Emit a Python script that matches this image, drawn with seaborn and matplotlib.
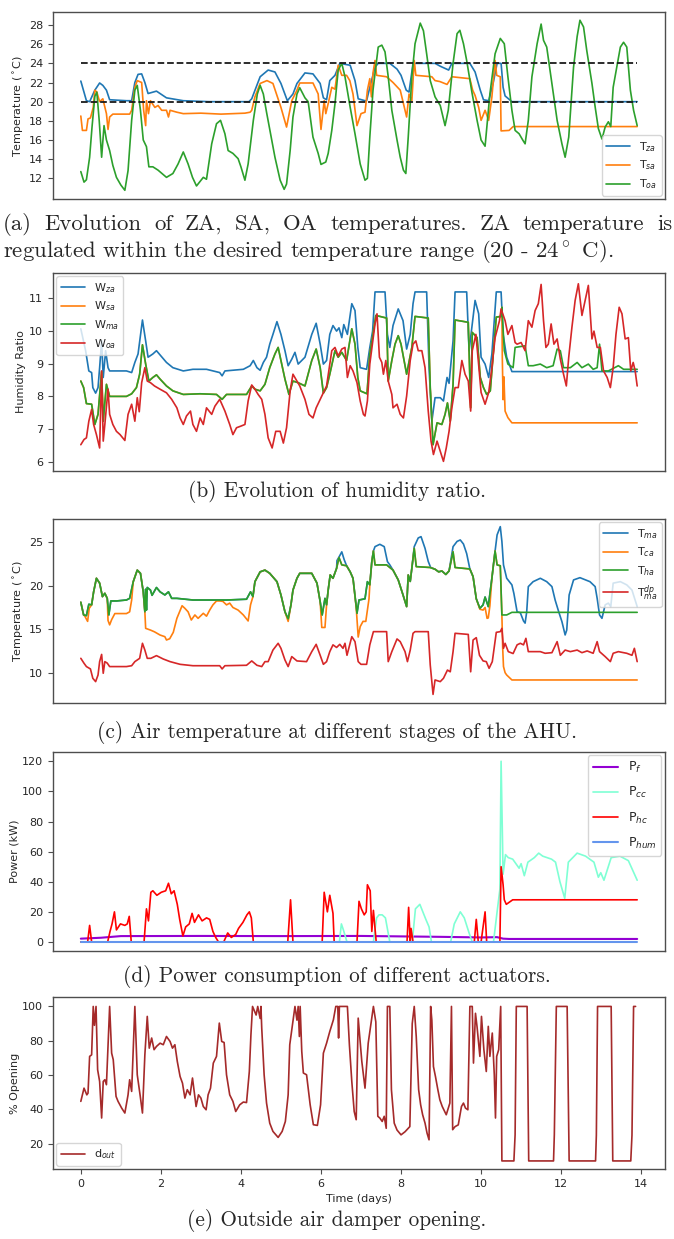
import matplotlib
matplotlib.use("Agg")
import matplotlib.pyplot as plt
import seaborn as sns

# ---------------- data (time in days, value) ----------------
T_ZA = [(0,22.15),(0.14,20.1),(0.22,20.0),(0.35,21.2),(0.47,21.95),(0.55,21.7),(0.64,21.2),(0.72,20.2),(1.14,20.1),(1.27,20.1),(1.35,22.0),(1.43,22.85),(1.52,22.9),(1.6,22.0),(1.68,20.85),(1.89,21.1),(2.14,20.4),(2.56,20.1),(3.2,20.0),(4.2,20.0),(4.27,20.3),(4.48,22.6),(4.68,23.3),(4.85,23.1),(5.0,21.9),(5.16,20.1),(5.3,20.8),(5.4,21.9),(5.6,23.0),(5.8,22.9),(5.98,21.9),(6.06,20.4),(6.14,20.2),(6.22,22.2),(6.35,22.75),(6.47,24.0),(6.73,23.8),(6.85,22.2),(6.93,20.3),(7.1,20.1),(7.14,20.1),(7.22,21.5),(7.35,23.6),(7.43,24.0),(7.72,24.0),(7.9,23.4),(8.0,22.75),(8.13,21.2),(8.2,21.0),(8.3,24.0),(8.85,24.0),(8.98,23.7),(9.19,23.3),(9.27,24.0),(9.72,24.0),(9.85,23.1),(9.98,21.2),(10.06,20.2),(10.19,20.1),(10.3,21.9),(10.4,24.0),(10.5,24.0),(10.55,21.5),(10.6,20.6),(10.77,20.0),(13.9,20.0)]
T_SA = [(0,18.5),(0.04,17.0),(0.14,17.0),(0.18,18.2),(0.24,18.3),(0.31,19.4),(0.35,21.2),(0.4,21.0),(0.47,20.0),(0.55,20.3),(0.64,18.75),(0.68,17.1),(0.72,18.4),(0.8,18.7),(1.14,18.7),(1.22,18.7),(1.27,19.1),(1.35,21.5),(1.41,22.2),(1.52,22.0),(1.57,19.1),(1.62,17.5),(1.64,20.1),(1.69,18.75),(1.74,20.1),(1.85,19.4),(1.93,19.6),(2.02,19.1),(2.14,19.1),(2.19,18.4),(2.23,19.1),(2.4,18.9),(2.56,18.75),(3.0,18.8),(3.5,18.7),(4.1,18.8),(4.23,18.9),(4.27,19.1),(4.35,20.5),(4.48,21.9),(4.65,22.2),(4.8,21.9),(5.0,19.4),(5.14,17.35),(5.27,20.1),(5.4,21.2),(5.47,21.95),(5.8,21.95),(5.93,20.8),(6.0,17.1),(6.08,20.1),(6.12,18.75),(6.18,19.8),(6.27,21.5),(6.35,21.3),(6.43,23.8),(6.52,22.75),(6.64,22.75),(6.72,22.2),(6.8,20.8),(6.9,17.5),(7.0,18.75),(7.1,18.9),(7.16,21.2),(7.22,22.4),(7.26,20.5),(7.3,23.0),(7.35,24.3),(7.39,22.75),(7.64,22.6),(7.8,22.0),(7.98,21.2),(8.14,18.4),(8.2,20.8),(8.27,20.1),(8.33,24.3),(8.37,22.75),(8.77,22.6),(8.85,22.2),(8.97,22.1),(9.15,21.8),(9.27,22.6),(9.72,22.4),(9.79,21.2),(9.85,20.65),(9.94,19.4),(10.0,18.05),(10.1,19.1),(10.19,18.05),(10.27,20.5),(10.35,24.3),(10.39,22.75),(10.48,22.6),(10.5,16.95),(10.7,17.0),(10.8,17.4),(13.9,17.4)]
T_OA = [(0,12.7),(0.08,11.6),(0.14,11.85),(0.22,14.2),(0.28,17.35),(0.35,20.55),(0.4,21.0),(0.46,18.0),(0.52,14.2),(0.58,17.5),(0.64,16.0),(0.72,14.9),(0.8,13.35),(0.89,12.1),(1.0,11.3),(1.1,10.75),(1.18,12.8),(1.27,18.05),(1.35,21.2),(1.41,21.7),(1.49,19.1),(1.56,16.0),(1.64,15.3),(1.7,13.2),(1.8,13.2),(1.93,12.85),(2.14,12.1),(2.3,12.5),(2.43,13.5),(2.56,14.75),(2.68,13.5),(2.79,12.1),(2.89,11.2),(3.06,12.1),(3.14,11.9),(3.27,15.6),(3.39,17.7),(3.49,18.05),(3.6,16.65),(3.68,14.9),(3.8,14.6),(3.93,14.05),(4.0,13.2),(4.1,11.8),(4.18,13.5),(4.31,18.05),(4.41,20.8),(4.48,21.7),(4.56,20.8),(4.64,18.9),(4.74,16.65),(4.85,14.2),(4.98,11.8),(5.08,10.85),(5.14,11.4),(5.23,14.9),(5.3,18.4),(5.4,20.8),(5.47,21.45),(5.6,20.4),(5.68,20.0),(5.8,16.3),(5.93,14.6),(6.0,13.45),(6.12,13.7),(6.18,14.6),(6.27,17.0),(6.35,19.8),(6.43,23.3),(6.52,24.0),(6.6,22.6),(6.73,19.4),(6.85,16.65),(6.98,13.5),(7.1,11.8),(7.16,12.0),(7.22,16.3),(7.3,21.2),(7.43,25.7),(7.52,25.9),(7.6,25.2),(7.68,22.6),(7.77,19.1),(7.9,16.0),(7.98,14.2),(8.06,12.85),(8.12,12.5),(8.18,16.3),(8.27,22.6),(8.35,26.05),(8.48,28.2),(8.56,27.4),(8.64,25.0),(8.73,22.2),(8.85,20.5),(8.98,19.6),(9.1,17.5),(9.18,19.1),(9.3,24.0),(9.4,27.1),(9.47,27.45),(9.56,26.05),(9.64,24.3),(9.77,21.0),(9.9,18.05),(10.0,16.0),(10.1,15.35),(10.22,20.8),(10.35,25.0),(10.48,26.6),(10.58,26.05),(10.67,22.6),(10.77,19.1),(10.85,17.0),(10.95,16.65),(11.04,16.0),(11.1,15.6),(11.18,18.05),(11.27,22.6),(11.4,26.05),(11.5,28.1),(11.56,26.4),(11.64,25.7),(11.77,21.9),(11.9,18.05),(12.02,15.6),(12.1,14.2),(12.19,16.3),(12.31,23.6),(12.4,26.8),(12.47,28.5),(12.56,27.8),(12.64,25.35),(12.77,21.9),(12.85,19.45),(12.93,17.2),(13.02,16.1),(13.1,17.35),(13.18,17.9),(13.24,17.4),(13.3,21.5),(13.39,23.6),(13.48,25.7),(13.56,26.2),(13.64,25.7),(13.73,21.2),(13.81,19.1),(13.9,17.5)]
T_BAND = [20, 24]

W_ZA = [(0,10.07),(0.12,9.4),(0.2,8.78),(0.27,8.73),(0.3,8.27),(0.37,8.1),(0.43,8.27),(0.47,8.88),(0.52,9.7),(0.56,8.58),(0.62,9.4),(0.68,8.88),(0.72,8.78),(1.14,8.78),(1.27,8.73),(1.35,9.04),(1.43,9.3),(1.54,10.34),(1.62,9.7),(1.68,9.2),(1.8,9.3),(1.89,9.4),(1.98,9.27),(2.14,9.04),(2.3,8.88),(2.56,8.78),(2.8,8.83),(3.14,8.83),(3.47,8.73),(3.53,8.63),(3.6,8.78),(4.06,8.83),(4.23,8.94),(4.31,9.1),(4.4,8.88),(4.48,8.8),(4.56,9.04),(4.64,9.2),(4.72,9.6),(4.8,9.9),(4.9,10.29),(5.0,9.9),(5.1,9.4),(5.18,8.94),(5.27,9.14),(5.35,9.35),(5.43,8.99),(5.6,9.2),(5.77,9.9),(5.88,10.24),(5.98,9.6),(6.06,8.99),(6.14,9.1),(6.22,9.9),(6.3,10.17),(6.39,10.0),(6.45,10.1),(6.52,9.8),(6.57,10.2),(6.66,9.9),(6.77,10.84),(6.85,10.63),(6.92,9.5),(6.98,8.88),(7.14,8.83),(7.22,9.5),(7.29,10.0),(7.35,11.2),(7.6,11.2),(7.66,9.9),(7.72,9.5),(7.8,10.17),(7.93,10.68),(8.05,10.32),(8.14,9.45),(8.23,9.9),(8.3,10.84),(8.35,11.2),(8.64,11.2),(8.7,8.88),(8.77,7.24),(8.85,7.96),(8.98,7.96),(9.06,7.86),(9.15,8.58),(9.2,8.4),(9.3,9.7),(9.35,11.2),(9.64,11.2),(9.7,9.4),(9.85,10.94),(9.94,10.53),(10.0,9.2),(10.1,8.99),(10.19,8.58),(10.27,9.3),(10.38,11.2),(10.5,11.2),(10.55,9.9),(10.64,9.2),(10.77,8.76),(13.9,8.76)]
W_MA = [(0,8.47),(0.07,8.27),(0.14,7.78),(0.27,7.76),(0.35,7.14),(0.43,7.45),(0.52,8.76),(0.56,7.24),(0.64,8.37),(0.72,8.0),(1.14,8.0),(1.27,8.08),(1.39,8.27),(1.47,8.68),(1.54,9.58),(1.62,8.99),(1.7,8.47),(1.8,8.58),(1.89,8.66),(1.98,8.53),(2.14,8.32),(2.3,8.17),(2.56,8.06),(2.98,8.08),(3.39,8.06),(3.53,7.91),(3.64,8.06),(4.14,8.06),(4.27,8.32),(4.35,8.22),(4.48,8.17),(4.6,8.37),(4.72,8.88),(4.85,9.3),(4.93,9.5),(5.0,9.1),(5.1,8.53),(5.2,8.06),(5.3,8.47),(5.43,8.42),(5.6,8.32),(5.77,9.1),(5.88,9.45),(5.98,8.88),(6.06,8.1),(6.14,8.27),(6.22,8.68),(6.35,9.4),(6.43,9.2),(6.52,9.35),(6.64,9.1),(6.77,10.07),(6.85,9.6),(6.92,8.58),(6.98,8.17),(7.15,8.08),(7.22,9.3),(7.3,9.9),(7.37,10.48),(7.64,10.4),(7.68,8.47),(7.77,9.1),(7.85,9.6),(7.93,9.86),(8.0,9.6),(8.14,8.68),(8.27,9.5),(8.35,10.45),(8.68,10.4),(8.73,8.27),(8.8,6.52),(8.9,7.19),(9.02,7.14),(9.1,7.45),(9.16,7.8),(9.23,7.24),(9.3,8.37),(9.35,10.34),(9.68,10.27),(9.74,7.65),(9.78,9.96),(9.9,9.8),(9.98,8.58),(10.06,8.27),(10.14,8.06),(10.23,8.17),(10.31,9.4),(10.38,10.43),(10.5,10.45),(10.52,10.73),(10.58,9.4),(10.67,8.99),(10.8,8.88),(10.85,9.5),(11.1,9.55),(11.18,8.94),(11.3,8.94),(11.48,8.99),(11.64,8.88),(11.8,8.94),(11.9,9.45),(11.98,9.4),(12.06,8.88),(12.23,8.88),(12.4,9.04),(12.52,8.88),(12.68,8.99),(12.8,8.83),(12.9,8.88),(12.96,9.6),(13.02,8.78),(13.18,8.78),(13.43,8.94),(13.56,8.83),(13.9,8.83)]
W_SA_TAIL = [(10.52,10.73),(10.53,9.2),(10.55,7.9),(10.57,8.6),(10.6,7.55),(10.67,7.35),(10.77,7.19),(13.9,7.19)]
W_OA = [(0,6.52),(0.08,6.68),(0.14,6.73),(0.2,7.24),(0.27,7.6),(0.32,7.14),(0.39,6.83),(0.43,6.63),(0.47,6.42),(0.52,8.78),(0.56,6.63),(0.6,7.14),(0.68,8.22),(0.72,7.45),(0.8,7.14),(0.89,6.93),(0.98,6.83),(1.1,6.65),(1.18,7.45),(1.27,7.76),(1.35,7.24),(1.41,7.96),(1.46,7.53),(1.52,8.42),(1.6,8.88),(1.66,8.47),(1.74,8.42),(1.84,8.32),(1.98,8.22),(2.14,8.11),(2.27,7.91),(2.4,7.65),(2.48,7.34),(2.56,7.14),(2.64,7.4),(2.74,7.55),(2.8,7.14),(2.89,6.93),(2.98,7.34),(3.06,7.14),(3.14,7.65),(3.27,7.45),(3.35,7.7),(3.47,7.91),(3.6,7.55),(3.72,7.14),(3.8,6.83),(3.89,7.04),(4.0,7.09),(4.1,7.14),(4.18,7.86),(4.27,8.35),(4.35,8.22),(4.43,8.06),(4.52,7.91),(4.6,7.45),(4.68,6.73),(4.78,6.42),(4.87,6.93),(4.98,6.93),(5.06,6.57),(5.14,7.04),(5.23,8.17),(5.3,8.68),(5.4,8.47),(5.47,8.32),(5.6,7.91),(5.7,7.45),(5.8,7.34),(5.88,7.65),(5.98,7.91),(6.08,8.17),(6.14,8.32),(6.27,9.4),(6.35,9.5),(6.43,9.24),(6.52,9.45),(6.6,9.5),(6.66,8.58),(6.73,8.94),(6.8,8.78),(6.9,8.42),(6.98,7.86),(7.06,7.45),(7.1,7.4),(7.16,7.86),(7.22,8.99),(7.29,9.65),(7.35,10.22),(7.4,10.53),(7.46,9.2),(7.52,9.04),(7.56,8.68),(7.62,9.1),(7.68,8.47),(7.77,8.06),(7.8,7.65),(7.9,7.76),(7.98,7.45),(8.06,7.34),(8.14,8.01),(8.23,9.1),(8.3,9.6),(8.37,9.7),(8.43,9.4),(8.52,9.4),(8.6,8.88),(8.68,7.55),(8.75,6.63),(8.81,6.22),(8.9,6.63),(8.98,6.32),(9.06,6.01),(9.13,6.42),(9.2,6.93),(9.27,7.65),(9.35,8.27),(9.43,8.27),(9.52,9.1),(9.6,8.68),(9.68,8.47),(9.74,7.55),(9.78,9.4),(9.87,9.9),(9.93,9.1),(10.0,8.12),(10.1,7.76),(10.19,8.12),(10.27,8.88),(10.35,9.8),(10.46,10.32),(10.5,10.68),(10.6,10.32),(10.67,9.9),(10.77,10.17),(10.85,9.65),(10.9,9.6),(11.0,9.65),(11.1,9.4),(11.18,10.32),(11.27,10.12),(11.35,10.63),(11.43,10.84),(11.5,11.43),(11.56,10.32),(11.62,9.5),(11.68,9.6),(11.75,10.22),(11.82,9.6),(11.9,9.76),(11.98,9.14),(12.06,8.68),(12.13,8.32),(12.19,9.2),(12.27,10.12),(12.35,10.94),(12.43,11.45),(12.52,10.48),(12.6,10.94),(12.68,11.4),(12.77,9.76),(12.82,10.0),(12.9,9.5),(12.98,9.5),(13.06,8.78),(13.15,8.58),(13.23,8.27),(13.3,8.88),(13.37,9.9),(13.45,10.73),(13.52,10.53),(13.6,9.76),(13.68,9.8),(13.74,8.78),(13.8,9.04),(13.85,8.78),(13.9,8.32)]

T_HA = [(0,18.1),(0.07,16.64),(0.14,16.56),(0.2,17.87),(0.27,17.8),(0.32,19.3),(0.39,20.86),(0.47,20.3),(0.54,18.75),(0.6,19.13),(0.66,18.55),(0.7,16.64),(0.75,18.25),(0.89,18.25),(1.14,18.36),(1.22,18.55),(1.31,20.47),(1.41,21.8),(1.49,21.43),(1.56,19.3),(1.6,17.0),(1.62,19.6),(1.64,17.2),(1.66,19.8),(1.74,19.5),(1.78,18.9),(1.89,19.8),(1.98,19.3),(2.1,18.94),(2.19,19.3),(2.27,18.55),(2.4,18.55),(2.8,18.36),(3.22,18.36),(3.64,18.36),(4.14,18.45),(4.24,19.3),(4.3,18.75),(4.35,20.47),(4.48,21.6),(4.6,21.8),(4.72,21.43),(4.9,20.47),(5.0,18.94),(5.1,17.0),(5.18,16.2),(5.25,17.8),(5.3,19.5),(5.4,20.86),(5.47,21.43),(5.77,21.43),(5.9,20.3),(5.98,18.17),(6.03,16.64),(6.1,18.55),(6.14,17.8),(6.18,19.5),(6.23,21.24),(6.3,20.86),(6.39,22.0),(6.45,23.24),(6.52,22.4),(6.64,22.3),(6.73,21.6),(6.8,20.86),(6.9,16.83),(6.95,18.36),(7.1,18.5),(7.16,20.47),(7.22,20.1),(7.27,22.78),(7.31,24.0),(7.35,22.4),(7.64,22.4),(7.8,21.8),(7.93,20.67),(8.05,18.94),(8.14,17.6),(8.18,21.24),(8.23,20.5),(8.27,22.0),(8.33,24.3),(8.38,22.2),(8.73,22.1),(8.85,21.9),(8.94,21.6),(9.02,21.7),(9.12,21.3),(9.2,21.7),(9.3,23.9),(9.35,22.1),(9.72,21.93),(9.8,21.05),(9.88,18.5),(9.97,17.4),(10.05,17.8),(10.1,18.7),(10.18,17.6),(10.27,20.86),(10.35,24.0),(10.4,22.4),(10.48,22.3),(10.52,16.64),(10.64,16.64),(10.77,16.94),(13.9,16.94)]
T_MA_PEAKS = [
    [(6.4,22.9),(6.45,23.3),(6.52,23.9),(6.58,23.0),(6.64,22.3)],
    [(7.31,24.0),(7.35,24.5),(7.47,24.77),(7.58,24.5),(7.66,22.78),(7.72,22.4)],
    [(8.33,24.5),(8.43,25.5),(8.5,25.65),(8.6,24.3),(8.68,22.8),(8.74,22.1)],
    [(9.3,24.5),(9.4,25.1),(9.48,25.27),(9.56,24.8),(9.64,23.7),(9.72,21.93)],
    [(10.31,22.5),(10.4,25.85),(10.48,26.8),(10.52,25.1),(10.56,22.4),(10.64,20.86),(10.77,20.1),(10.82,19.1),(10.9,17.0),(10.98,16.9),(11.06,15.95),(11.1,15.7),(11.14,17.0),(11.18,19.9),(11.3,20.47),(11.48,20.86),(11.64,20.47),(11.77,19.9),(11.85,18.36),(11.94,17.0),(12.02,15.87),(12.1,14.34),(12.14,14.9),(12.2,18.94),(12.31,20.67),(12.47,20.93),(12.72,20.47),(12.85,19.9),(12.9,18.55),(12.96,16.64),(13.02,16.25),(13.1,17.8),(13.18,18.0),(13.24,17.6),(13.3,20.3),(13.48,20.47),(13.64,20.1),(13.77,19.5),(13.9,17.6)],
]
T_CA_DIPS = [
    [(0.1,16.5),(0.17,15.9),(0.21,17.4)],
    [(0.66,18.55),(0.68,16.0),(0.72,15.5),(0.77,16.1),(0.85,16.8),(1.14,16.8),(1.22,17.0),(1.27,18.36)],
    [(1.6,17.0),(1.62,15.1),(1.74,14.9),(1.84,14.7),(1.98,14.33),(2.1,14.14),(2.14,13.76),(2.22,13.9),(2.31,14.64),(2.4,16.25),(2.53,17.7),(2.6,17.4),(2.68,17.0),(2.76,16.06),(2.85,16.64),(2.93,16.25),(3.06,16.83),(3.14,16.5),(3.22,17.2),(3.3,17.8),(3.39,18.25),(3.47,18.25),(3.55,18.2),(3.64,17.8),(3.72,18.0),(3.8,17.5),(3.93,17.2),(4.06,16.64),(4.18,15.95),(4.24,17.8),(4.3,18.75)],
    [(5.1,17.0),(5.18,15.9),(5.25,17.8)],
    [(5.98,18.17),(6.02,15.2),(6.1,15.2),(6.14,17.8)],
    [(6.88,17.5),(6.93,14.1),(6.98,15.3),(7.05,15.9),(7.12,15.9),(7.2,18.5),(7.22,20.1)],
    [(9.88,18.5),(9.97,17.3),(10.05,17.2),(10.1,17.5),(10.15,16.25),(10.18,16.3),(10.22,17.7)],
    [(10.52,16.6),(10.54,12.8),(10.56,10.7),(10.6,10.0),(10.64,9.73),(10.77,9.16),(13.9,9.16)],
]
T_DP = [(0,11.65),(0.08,11.08),(0.14,10.7),(0.24,10.43),(0.3,9.35),(0.37,8.97),(0.43,9.73),(0.47,11.27),(0.52,12.1),(0.56,9.93),(0.6,11.27),(0.66,11.1),(0.72,10.7),(1.14,10.7),(1.27,10.8),(1.35,11.27),(1.47,11.65),(1.54,13.38),(1.6,12.6),(1.66,11.65),(1.75,11.65),(1.89,11.96),(2.06,11.57),(2.23,11.27),(2.48,10.96),(2.8,10.8),(3.47,10.8),(3.53,10.43),(3.6,10.8),(4.14,10.85),(4.27,11.35),(4.4,10.85),(4.52,10.7),(4.6,11.27),(4.68,11.27),(4.8,12.6),(4.93,13.38),(5.0,12.8),(5.1,11.46),(5.18,10.7),(5.27,11.85),(5.4,11.35),(5.64,11.27),(5.77,12.42),(5.88,13.26),(5.98,12.0),(6.06,10.96),(6.14,11.27),(6.22,12.42),(6.3,13.2),(6.39,12.9),(6.47,13.26),(6.55,12.8),(6.6,13.38),(6.65,12.0),(6.77,14.14),(6.85,13.57),(6.93,11.27),(7.0,10.96),(7.14,10.96),(7.22,13.2),(7.31,14.72),(7.64,14.72),(7.68,11.27),(7.77,12.42),(7.9,13.88),(7.98,13.57),(8.1,12.42),(8.16,11.27),(8.23,12.6),(8.3,14.53),(8.35,14.72),(8.68,14.72),(8.73,10.88),(8.8,7.5),(8.85,9.16),(8.98,8.97),(9.06,9.35),(9.16,10.3),(9.23,10.1),(9.3,12.42),(9.35,14.53),(9.68,14.4),(9.74,10.1),(9.8,13.76),(9.88,14.03),(9.96,12.0),(10.05,11.35),(10.13,11.27),(10.2,10.5),(10.28,11.27),(10.38,14.64),(10.48,14.72),(10.52,15.1),(10.56,12.8),(10.6,13.38),(10.68,12.42),(10.8,12.2),(10.9,13.2),(10.98,13.38),(11.06,13.2),(11.12,13.95),(11.18,12.42),(11.48,12.42),(11.6,12.23),(11.77,12.3),(11.9,13.57),(11.98,12.0),(12.1,12.6),(12.23,12.42),(12.4,12.6),(12.52,12.3),(12.65,12.5),(12.8,12.23),(12.9,13.57),(12.96,12.42),(13.1,11.85),(13.23,11.27),(13.3,12.23),(13.43,12.42),(13.64,12.23),(13.77,12.0),(13.83,12.8),(13.9,11.27)]

P_F = [(0,2.2),(0.5,2.8),(1.0,3.9),(3.0,4.0),(5.0,3.9),(7.0,4.0),(8.0,3.7),(9.0,3.4),(10.0,3.0),(10.4,3.2),(10.55,2.2),(10.7,2.0),(13.9,2.0)]
P_CC = [(0,0),(6.46,0),(6.51,12),(6.56,8),(6.65,0),(7.31,0),(7.39,16),(7.45,18),(7.53,18),(7.61,16),(7.72,0),(8.28,0),(8.36,22),(8.47,25),(8.62,15),(8.7,10),(8.76,0),(9.24,0),(9.33,12),(9.48,20),(9.58,16),(9.7,6),(9.78,0),(10.31,0),(10.4,20),(10.47,35),(10.5,120),(10.55,45),(10.61,58),(10.68,56),(10.79,55),(10.95,49),(11.0,52),(11.08,44),(11.17,53),(11.33,56),(11.44,59),(11.54,57),(11.76,55),(11.86,53),(11.97,40),(12.09,29),(12.18,53),(12.4,59),(12.61,57),(12.82,53),(12.93,43),(12.99,46),(13.07,41),(13.25,56),(13.47,57),(13.68,54),(13.9,41)]
P_HC = [(0,0),(0.17,0),(0.22,11),(0.27,0),(0.67,0),(0.73,7),(0.78,12),(0.84,20),(0.89,8),(0.99,12),(1.1,11),(1.16,12),(1.21,17),(1.26,0),(1.58,0),(1.64,22),(1.69,14),(1.75,33),(1.8,34),(1.9,31),(2.01,33),(2.12,34),(2.19,39),(2.26,32),(2.33,34),(2.41,25),(2.47,15),(2.55,4),(2.62,10),(2.71,12),(2.78,19),(2.84,13),(2.94,18),(3.03,14),(3.14,16),(3.22,15),(3.3,7),(3.37,3),(3.44,0),(3.57,0),(3.67,6),(3.76,3),(3.87,5),(3.94,9),(4.05,13),(4.15,18),(4.21,20),(4.26,16),(4.31,0),(5.17,0),(5.24,28),(5.3,0),(6.03,0),(6.08,33),(6.16,20),(6.22,31),(6.3,19),(6.33,0),(6.9,0),(6.95,27),(7.01,22),(7.08,18),(7.13,20),(7.16,38),(7.23,34),(7.27,7),(7.31,21),(7.38,0),(8.15,0),(8.19,23),(8.23,0),(8.25,9),(8.3,0),(9.83,0),(9.88,15),(9.93,0),(10.0,0),(10.05,10),(10.1,20),(10.14,0),(10.47,0),(10.5,50),(10.55,38),(10.58,28),(10.63,25),(10.79,28),(13.9,28)]
P_HUM = [(0,0),(13.9,0)]

D_OUT = [(0,44.7),(0.08,52.4),(0.15,48.5),(0.18,49.5),(0.22,70.9),(0.27,71.8),(0.31,100),(0.34,89),(0.38,100),(0.42,63.1),(0.47,56.3),(0.52,35),(0.56,56.3),(0.6,57.3),(0.64,54.4),(0.72,100),(0.77,72.8),(0.81,69),(0.88,47.6),(0.93,44.7),(1.02,40.8),(1.1,37.9),(1.18,48.5),(1.22,57.3),(1.27,50.5),(1.35,100),(1.41,60.2),(1.48,48.5),(1.54,37.9),(1.6,71.8),(1.66,94.2),(1.71,75.7),(1.77,81.6),(1.83,74.8),(1.89,76.7),(1.98,78.6),(2.06,77.7),(2.14,82.5),(2.23,79.6),(2.29,75.7),(2.35,77.7),(2.41,68),(2.48,59.2),(2.54,55.3),(2.6,46.6),(2.66,51.5),(2.73,48.5),(2.79,58.3),(2.88,41.7),(2.94,48.5),(3.0,46.6),(3.06,41.7),(3.13,39.8),(3.18,48.5),(3.24,52.4),(3.31,67),(3.39,70.9),(3.46,90.3),(3.52,79.6),(3.58,79),(3.64,60.2),(3.72,48.5),(3.8,44.7),(3.87,38.8),(3.97,42.7),(4.06,44.3),(4.14,44),(4.21,62.1),(4.25,83.5),(4.29,100),(4.38,95),(4.42,100),(4.48,93),(4.5,100),(4.52,87.4),(4.58,60.2),(4.64,43.7),(4.72,32),(4.8,27.2),(4.93,23.7),(5.03,27.2),(5.11,33),(5.18,48.5),(5.22,77.7),(5.3,91.3),(5.35,100),(5.4,92),(5.43,100),(5.46,82.5),(5.48,100),(5.52,73.8),(5.56,61.2),(5.64,60.2),(5.73,42.7),(5.81,31.1),(5.91,30.7),(5.99,42.7),(6.06,72.8),(6.14,78.6),(6.22,85.4),(6.31,92.2),(6.37,100),(6.42,100),(6.44,81.6),(6.46,100),(6.66,100),(6.71,77.7),(6.77,56.3),(6.83,38.8),(6.88,34),(6.93,93.2),(7.02,68),(7.1,52.4),(7.18,78.6),(7.31,100),(7.37,91),(7.42,36),(7.47,35),(7.53,33),(7.58,36),(7.63,29),(7.66,100),(7.72,100),(7.76,51.5),(7.83,32),(7.9,28),(8.0,25.2),(8.1,27),(8.22,30),(8.28,90),(8.33,100),(8.38,82.5),(8.44,51.5),(8.49,42.7),(8.54,36.9),(8.6,32),(8.65,26.2),(8.7,22.3),(8.74,100),(8.77,92),(8.81,65),(8.86,59.2),(8.92,51.5),(8.97,45.6),(9.03,41.7),(9.13,36.9),(9.22,43.7),(9.26,100),(9.29,28.2),(9.35,30),(9.43,31),(9.51,41.7),(9.56,43.7),(9.61,40.8),(9.67,39.8),(9.72,100),(9.78,100),(9.81,67),(9.86,96),(9.9,88),(9.97,70.9),(10.01,94.2),(10.07,74.8),(10.13,62.1),(10.18,88.4),(10.22,70.9),(10.28,84.5),(10.33,60.2),(10.36,35),(10.39,70.9),(10.44,74.8),(10.49,100),(10.52,10),(10.82,10),(10.85,25.2),(10.88,100),(11.15,100),(11.19,10),(11.81,10),(11.83,25.2),(11.88,100),(12.15,100),(12.2,10),(12.86,10),(12.88,25),(12.91,100),(13.25,100),(13.29,10),(13.74,10),(13.77,25),(13.81,100),(13.86,100)]

X_TICKS = [0, 2, 4, 6, 8, 10, 12, 14]
CAPTIONS = [
    ["(a) Evolution of ZA, SA, OA temperatures. ZA temperature is",
     r"regulated within the desired temperature range (20 - 24$^\circ$ C)."],
    ["(b) Evolution of humidity ratio."],
    ["(c) Air temperature at different stages of the AHU."],
    ["(d) Power consumption of different actuators."],
    ["(e) Outside air damper opening."],
]

# ---------------- helpers ----------------
def overlay(base, patches):
    pts = list(base)
    for p in patches:
        lo, hi = p[0][0], p[-1][0]
        pts = [q for q in pts if q[0] < lo or q[0] > hi] + list(p)
    return sorted(pts)

def draw(ax, pts, color, label=None, lw=1.2, **kw):
    t, v = zip(*pts)
    sns.lineplot(x=list(t), y=list(v), ax=ax, color=color, label=label,
                 lw=lw, estimator=None, sort=False, **kw)

# ---------------- figure ----------------
sns.set_theme(style="ticks")
plt.rcParams['font.family'] = ['DejaVu Sans']
plt.rcParams['axes.edgecolor'] = '0.3'
plt.rcParams['axes.linewidth'] = 1.0

W, H = 674, 1239
fig = plt.figure(figsize=(W / 100, H / 100), dpi=100)
fig.patch.set_facecolor('white')

def add_ax(top, bottom):
    return fig.add_axes([53 / W, 1 - bottom / H, (665 - 53) / W, (bottom - top) / H])

boxes = [(12, 199), (273, 470.5), (519, 703), (751.5, 951), (997, 1169)]
axs = [add_ax(t, b) for t, b in boxes]
C = sns.color_palette("tab10")
leg_kw = dict(fontsize=8, labelspacing=0.45, borderaxespad=0.3,
              handlelength=2.2, edgecolor='0.8', fancybox=True)

# (a)
ax = axs[0]
draw(ax, T_ZA, C[0], r"T$_{za}$")
draw(ax, T_SA, C[1], r"T$_{sa}$")
draw(ax, T_OA, C[2], r"T$_{oa}$")
for b in T_BAND:
    sns.lineplot(x=[0, 13.9], y=[b, b], ax=ax, color='k', lw=1.3, linestyle='--')
ax.set_ylim(9.84, 29.36)
ax.set_yticks([12, 14, 16, 18, 20, 22, 24, 26, 28])
ax.set_ylabel(r"Temperature ($^\circ$C)")
ax.legend(loc='lower right', **leg_kw)

# (b)
ax = axs[1]
W_SA = [p for p in W_MA if p[0] < 10.52] + W_SA_TAIL
draw(ax, W_ZA, C[0], r"W$_{za}$")
draw(ax, W_SA, C[1], r"W$_{sa}$")
draw(ax, W_MA, C[2], r"W$_{ma}$")
draw(ax, W_OA, C[3], r"W$_{oa}$")
ax.set_ylim(5.73, 11.78)
ax.set_yticks([6, 7, 8, 9, 10, 11])
ax.set_ylabel("Humidity Ratio")
ax.legend(loc='upper left', **leg_kw)

# (c)
ax = axs[2]
T_MA = overlay(T_HA, T_MA_PEAKS)
T_CA = overlay(T_HA, T_CA_DIPS)
draw(ax, T_MA, C[0], r"T$_{ma}$")
draw(ax, T_CA, C[1], r"T$_{ca}$")
draw(ax, T_HA, C[2], r"T$_{ha}$")
draw(ax, T_DP, C[3], r"T$^{dp}_{ma}$")
ax.set_ylim(6.51, 27.68)
ax.set_yticks([10, 15, 20, 25])
ax.set_ylabel(r"Temperature ($^\circ$C)")
ax.legend(loc='upper right', **leg_kw)

# (d)
ax = axs[3]
draw(ax, P_F, 'darkviolet', r"P$_{f}$", lw=1.5)
draw(ax, P_CC, 'aquamarine', r"P$_{cc}$")
draw(ax, P_HC, 'red', r"P$_{hc}$")
draw(ax, P_HUM, 'cornflowerblue', r"P$_{hum}$", lw=1.5)
ax.set_ylim(-6, 126.5)
ax.set_yticks([0, 20, 40, 60, 80, 100, 120])
ax.set_ylabel("Power (kW)")
ax.legend(loc='upper right', **dict(leg_kw, fontsize=9, labelspacing=0.8, handlelength=2.0))

# (e)
ax = axs[4]
draw(ax, D_OUT, 'brown', r"d$_{out}$")
ax.set_ylim(5.3, 105.5)
ax.set_yticks([20, 40, 60, 80, 100])
ax.set_ylabel("% Opening")
ax.legend(loc='lower left', **leg_kw)

for i, ax in enumerate(axs):
    ax.set_xlim(-0.695, 14.595)
    ax.set_xticks(X_TICKS)
    ax.tick_params(labelsize=8, length=3.5, width=0.8, color='0.3')
    if i < 4:
        ax.tick_params(axis='x', bottom=False, labelbottom=False)
        ax.set_xlabel("")
    else:
        ax.set_xlabel("Time (days)")
    ax.yaxis.label.set_size(8)
    ax.xaxis.label.set_size(8)
    ax.yaxis.labelpad = 2

# ---------------- captions ----------------
cap_kw = dict(fontfamily=['cmr10', 'DejaVu Serif'], fontsize=15.3,
              math_fontfamily='cm', va='center')
cap_a_kw = dict(cap_kw, fontsize=16.4)
renderer = fig.canvas.get_renderer()

# justified first line of caption (a)
words = CAPTIONS[0][0].split(" ")
texts = [fig.text(0, 1 - 224.5 / H, w, ha='left', **cap_a_kw) for w in words]
widths = [t.get_window_extent(renderer).width for t in texts]
x0, x1 = 3, 672
gap = (x1 - x0 - sum(widths)) / (len(words) - 1)
x = x0
for t, w in zip(texts, widths):
    t.set_x(x / W)
    x += w + gap
fig.text(3 / W, 1 - 251.5 / H, CAPTIONS[0][1], ha='left', **cap_a_kw)

for cap, yc in zip(CAPTIONS[1:], [492, 732, 977, 1221]):
    fig.text(0.5, 1 - yc / H, cap[0], ha='center', **cap_kw)

fig.savefig("out.png", dpi=100, facecolor='white')
